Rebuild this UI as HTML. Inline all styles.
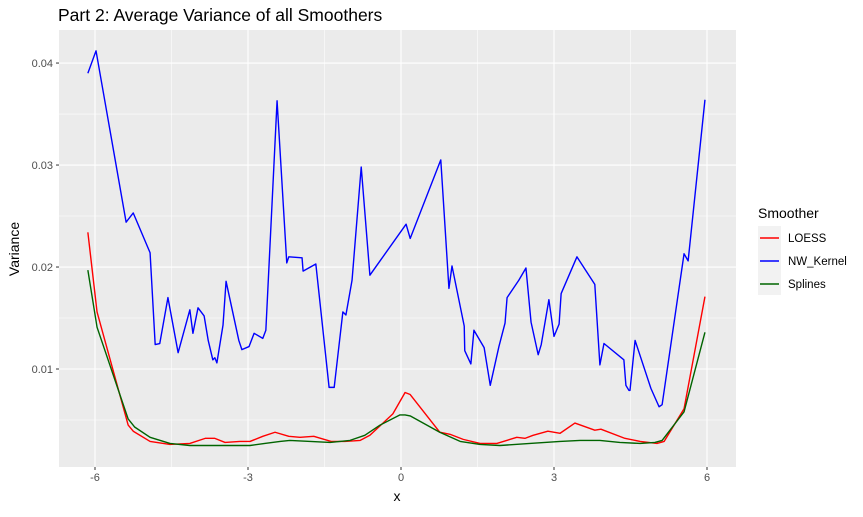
<!DOCTYPE html>
<html><head><meta charset="utf-8"><style>
body{margin:0;background:#fff;font-family:"Liberation Sans",sans-serif;}
svg text{font-family:"Liberation Sans",sans-serif;}
</style></head><body>
<svg id="c" width="863" height="512" xmlns="http://www.w3.org/2000/svg">
<rect width="863" height="512" fill="#fff"/>
<text x="58" y="21" font-size="17.5" fill="#000">Part 2: Average Variance of all Smoothers</text>
<rect x="59" y="30" width="677" height="437" fill="#ebebeb"/>
<g id="grid"></g><g id="series"></g><g id="axes"></g>
<text x="397" y="501" font-size="14" text-anchor="middle">x</text>
<text transform="translate(19,249) rotate(-90)" font-size="14" text-anchor="middle">Variance</text>
<g>
<text x="758" y="218" font-size="14">Smoother</text>
<rect x="758" y="226" width="23" height="69" fill="#f2f2f2"/>
<line x1="760" x2="779" y1="238" y2="238" stroke="#ff0000" stroke-width="1.5"/>
<text x="788" y="242" font-size="11.5" fill="#000">LOESS</text>
<line x1="760" x2="779" y1="261" y2="261" stroke="#0000ff" stroke-width="1.5"/>
<text x="788" y="265" font-size="11.5" fill="#000">NW_Kernel</text>
<line x1="760" x2="779" y1="284" y2="284" stroke="#006400" stroke-width="1.5"/>
<text x="788" y="288" font-size="11.5" fill="#000">Splines</text>
</g>
</svg>
<script>
const xTicks=[-6,-3,0,3,6];
const xTickLabels=["-6","-3","0","3","6"];
const yTicks=[0.01,0.02,0.03,0.04];
const yTickLabels=["0.01","0.02","0.03","0.04"];
const nwX=[-6.14,-5.98,-5.39,-5.25,-4.92,-4.82,-4.73,-4.57,-4.37,-4.14,-4.08,-3.98,-3.86,-3.78,-3.69,-3.65,-3.61,-3.49,-3.43,-3.18,-3.12,-2.98,-2.88,-2.71,-2.65,-2.43,-2.24,-2.20,-1.94,-1.92,-1.67,-1.41,-1.31,-1.14,-1.08,-0.96,-0.78,-0.61,0.10,0.18,0.78,0.94,1.00,1.24,1.25,1.37,1.43,1.63,1.75,1.92,2.04,2.08,2.31,2.45,2.55,2.69,2.75,2.90,3.00,3.10,3.14,3.45,3.80,3.90,3.98,4.37,4.41,4.47,4.49,4.59,4.90,5.06,5.12,5.55,5.63,5.96];
const nwY=[0.0390,0.0412,0.0244,0.0253,0.0214,0.0124,0.0125,0.0170,0.0116,0.0158,0.0135,0.0160,0.0152,0.0128,0.0109,0.0111,0.0106,0.0143,0.0186,0.0128,0.0119,0.0122,0.0135,0.0130,0.0138,0.0363,0.0204,0.0210,0.0209,0.0196,0.0203,0.0082,0.0082,0.0156,0.0153,0.0187,0.0298,0.0192,0.0242,0.0228,0.0305,0.0179,0.0201,0.0142,0.0118,0.0105,0.0138,0.0121,0.0084,0.0122,0.0145,0.0170,0.0187,0.0199,0.0146,0.0114,0.0124,0.0168,0.0132,0.0144,0.0174,0.0210,0.0183,0.0104,0.0125,0.0109,0.0084,0.0079,0.0079,0.0128,0.0081,0.0063,0.0065,0.0213,0.0206,0.0364];
const loX=[-6.14,-5.96,-5.35,-5.25,-4.92,-4.53,-4.14,-3.84,-3.65,-3.45,-3.16,-2.96,-2.71,-2.47,-2.20,-1.98,-1.71,-1.37,-1.10,-0.80,-0.61,-0.16,0.08,0.18,0.76,0.96,1.22,1.55,1.88,2.27,2.43,2.59,2.88,3.12,3.41,3.80,3.92,4.39,4.69,5.02,5.16,5.55,5.96];
const loY=[0.0234,0.0156,0.0045,0.0039,0.0029,0.0026,0.0027,0.0032,0.0032,0.0028,0.0029,0.0029,0.0034,0.0038,0.0034,0.0033,0.0034,0.0029,0.0029,0.0030,0.0035,0.0056,0.0077,0.0075,0.0038,0.0036,0.0031,0.0027,0.0027,0.0033,0.0032,0.0035,0.0039,0.0037,0.0047,0.0040,0.0041,0.0032,0.0029,0.0027,0.0029,0.0061,0.0171];
const spX=[-6.14,-5.96,-5.35,-5.22,-4.92,-4.53,-4.14,-3.65,-3.35,-2.96,-2.67,-2.37,-2.18,-1.78,-1.39,-1.00,-0.71,-0.41,-0.02,0.08,0.18,0.76,1.16,1.55,1.94,2.53,3.12,3.51,3.90,4.29,4.69,4.98,5.12,5.55,5.96];
const spY=[0.0197,0.0141,0.0051,0.0043,0.0033,0.0027,0.0025,0.0025,0.0025,0.0025,0.0027,0.0029,0.0030,0.0029,0.0028,0.0030,0.0035,0.0045,0.0055,0.0055,0.0054,0.0038,0.0029,0.0026,0.0025,0.0027,0.0029,0.0030,0.0030,0.0028,0.0027,0.0028,0.0030,0.0058,0.0136];

const P={l:59,r:736,t:30,b:467},X0=-6.7059,X1=6.5686,Y0=0.000392,Y1=0.04324;
const sx=v=>P.l+(v-X0)/(X1-X0)*(P.r-P.l);
const sy=v=>P.b-(v-Y0)/(Y1-Y0)*(P.b-P.t);
const NS="http://www.w3.org/2000/svg";
function mk(tag,attrs,parent){const e=document.createElementNS(NS,tag);for(const k in attrs)e.setAttribute(k,attrs[k]);parent.appendChild(e);return e;}
const grid=document.getElementById('grid'),axes=document.getElementById('axes'),ser=document.getElementById('series');
for(let i=0;i<yTicks.length;i++){
 const mn=yTicks[i]-0.005;
 const m=mk('line',{x1:P.l,x2:P.r,y1:sy(mn),y2:sy(mn),stroke:'#fff','stroke-width':0.55},grid);
 
 
}
for(let i=0;i<xTicks.length-1;i++){
 const mn=(xTicks[i]+xTicks[i+1])/2;
 const m=mk('line',{x1:sx(mn),x2:sx(mn),y1:P.t,y2:P.b,stroke:'#fff','stroke-width':0.55},grid);
 
 
}
yTicks.forEach((v,i)=>{
 const y=sy(v);
 const g=mk('line',{x1:P.l,x2:P.r,y1:y,y2:y,stroke:'#fff','stroke-width':1.1},grid);
 
 
 mk('line',{x1:P.l-3,x2:P.l,y1:y,y2:y,stroke:'#333','stroke-width':1},axes);
 const t=mk('text',{x:P.l-6,y:y+4,'font-size':11,fill:'#4d4d4d','text-anchor':'end'},axes);
 t.textContent=yTickLabels[i];
 
 
});
xTicks.forEach((v,i)=>{
 const x=sx(v);
 const g=mk('line',{x1:x,x2:x,y1:P.t,y2:P.b,stroke:'#fff','stroke-width':1.1},grid);
 
 
 mk('line',{x1:x,x2:x,y1:P.b,y2:P.b+3,stroke:'#333','stroke-width':1},axes);
 const t=mk('text',{x:x,y:P.b+14,'font-size':11,fill:'#4d4d4d','text-anchor':'middle'},axes);
 t.textContent=xTickLabels[i];
 
 
});
function line(xs,ys,col,name){
 const d=xs.map((x,i)=>(i?'L':'M')+sx(x).toFixed(2)+','+sy(ys[i]).toFixed(2)).join('');
 const p=mk('path',{d:d,fill:'none',stroke:col,'stroke-width':1.4,'stroke-linejoin':'round'},ser);
 
 
}
line(nwX,nwY,'#0000ff','nw-kernel-line');
line(loX,loY,'#ff0000','loess-line');
line(spX,spY,'#006400','splines-line');
</script>
</body></html>
